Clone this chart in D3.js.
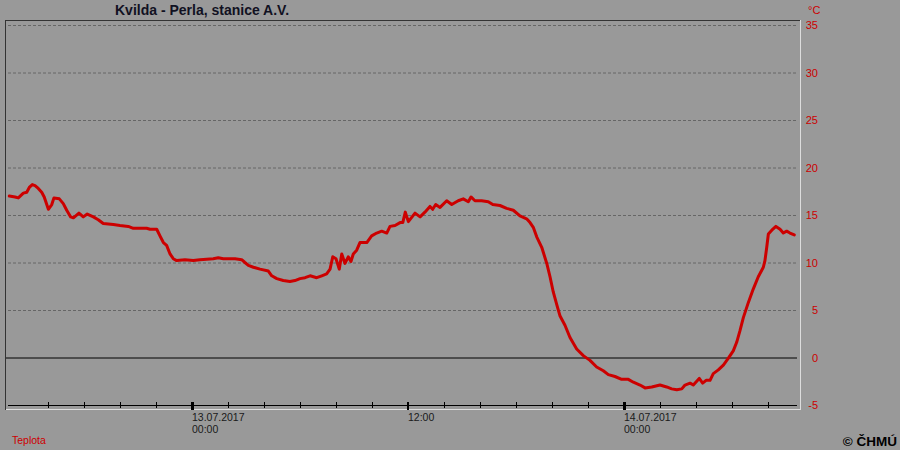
<!DOCTYPE html>
<html>
<head>
<meta charset="utf-8">
<script src="https://cdn.jsdelivr.net/npm/d3@7"></script>
<style>
html,body{margin:0;padding:0;background:#999999;}
svg{display:block;}
</style>
</head>
<body>
<svg id="chart" width="900" height="450"></svg>
<script>
// ---- data ----
const title = "Kvilda - Perla, stanice A.V.";
const seriesName = "Teplota";
const unit = "°C";
const credit = "© ČHMÚ";
// hours relative to 13.07.2017 00:00
const hoursFrom13Jul = [
 -10.15,-9.83,-9.65,-9.37,-9.18,-9.04,-8.87,-8.72,-8.54,-8.35,-8.21,-7.98,-7.79,-7.67,-7.37,-7.15,-6.96,-6.74,-6.59,-6.28,
 -6.04,-5.82,-5.48,-5.21,-4.93,-4.37,-4.00,-3.54,-3.26,-2.52,-2.33,-1.96,-1.78,-1.59,-1.41,-1.22,-1.04,-0.85,-0.39,0.07,
 0.44,1.18,1.46,1.74,2.39,2.76,2.94,3.13,3.41,3.78,4.24,4.43,4.71,5.07,5.44,5.72,6.00,6.28,6.56,6.93,
 7.21,7.48,7.67,7.82,8.00,8.18,8.32,8.50,8.68,8.83,8.96,9.15,9.33,9.71,9.98,10.26,10.54,10.82,11.00,11.28,
 11.56,11.71,11.85,12.02,12.39,12.67,12.94,13.22,13.37,13.54,13.78,14.15,14.43,14.79,15.07,15.35,15.50,15.72,16.09,16.46,
 16.71,17.11,17.48,17.85,18.22,18.59,18.78,18.96,19.15,19.43,19.71,19.89,20.07,20.26,20.44,20.72,21.00,21.37,21.74,22.11,
 22.48,22.85,23.13,23.50,23.87,24.24,24.52,24.89,25.17,25.54,26.00,26.37,26.65,26.93,27.21,27.39,27.67,27.85,28.18,28.37,
 28.56,28.78,28.96,29.24,29.52,29.79,30.07,30.26,30.44,30.63,30.91,31.18,31.46,31.74,31.83,31.93,32.02,32.21,32.44,32.67,
 32.85,33.04,33.22,33.46
];
const temperature = [
 17.0,16.9,16.8,17.3,17.4,17.9,18.2,18.1,17.8,17.4,16.9,15.6,16.1,16.8,16.7,16.2,15.5,14.8,14.7,15.2,
 14.8,15.1,14.8,14.5,14.1,14.0,13.9,13.8,13.6,13.6,13.5,13.5,12.8,12.1,11.8,10.9,10.4,10.2,10.3,10.2,
 10.3,10.4,10.5,10.4,10.4,10.3,10.0,9.7,9.5,9.3,9.1,8.6,8.3,8.1,8.0,8.1,8.3,8.4,8.6,8.4,
 8.6,8.8,9.3,10.6,10.4,9.3,10.9,9.9,10.6,10.1,10.9,11.3,12.1,12.1,12.8,13.1,13.3,13.1,13.8,13.9,
 14.2,14.2,15.3,14.3,15.2,14.8,15.3,15.9,15.6,16.1,15.8,16.5,16.1,16.5,16.7,16.4,16.9,16.5,16.5,16.4,
 16.1,16.0,15.7,15.5,14.9,14.6,14.2,13.7,12.7,11.6,9.9,8.5,6.9,5.6,4.4,3.4,2.1,0.9,0.2,-0.3,
 -1.0,-1.4,-1.8,-2.0,-2.3,-2.3,-2.6,-2.9,-3.2,-3.1,-2.9,-3.1,-3.3,-3.4,-3.3,-2.9,-2.7,-2.9,-2.2,-2.7,
 -2.4,-2.4,-1.7,-1.3,-0.8,-0.1,0.7,1.6,2.8,4.2,5.8,7.2,8.5,9.5,10.2,11.6,13.0,13.4,13.8,13.5,
 13.1,13.3,13.1,12.9
];
const yTicks = [-5,0,5,10,15,20,25,30,35];
const xTickHours = [-8,-6,-4,-2,0,2,4,6,8,10,12,14,16,18,20,22,24,26,28,30,32];
const xLabelHours = [0,12,24];
const xLabels = [["13.07.2017","00:00"],["12:00"],["14.07.2017","00:00"]];

// ---- chart ----
const svg = d3.select("#chart");
const base = new Date(2017,6,13,0,0);
const toDate = h => new Date(base.getTime() + h*3600000);

const x = d3.scaleTime()
  .domain([toDate(-186/18), toDate(608/18)])
  .range([6, 800]);
const y = d3.scaleLinear().domain([-5,35]).range([405,25]);

svg.append("rect").attr("width",900).attr("height",450).attr("fill","#999999");

// gridlines
const gridX0 = 8, gridX1 = 797;
svg.append("g").selectAll("line").data(yTicks.filter(v => v > 0)).join("line")
  .attr("x1",gridX0).attr("x2",gridX1)
  .attr("y1",d=>y(d)+0.5).attr("y2",d=>y(d)+0.5)
  .attr("stroke","#666666").attr("stroke-width",1).attr("stroke-dasharray","3,2");

// zero line
svg.append("line").attr("x1",6).attr("x2",gridX1)
  .attr("y1",y(0)+0.5).attr("y2",y(0)+0.5).attr("stroke","#000").attr("stroke-width",1);

// frame (sunken)
svg.append("line").attr("x1",5.5).attr("x2",5.5).attr("y1",20).attr("y2",410).attr("stroke","#333333");
svg.append("line").attr("x1",5).attr("x2",800).attr("y1",20.5).attr("y2",20.5).attr("stroke","#333333");
svg.append("line").attr("x1",800.5).attr("x2",800.5).attr("y1",20).attr("y2",410).attr("stroke","#dddddd");
svg.append("line").attr("x1",6).attr("x2",801).attr("y1",409.5).attr("y2",409.5).attr("stroke","#dddddd");

// x axis line
svg.append("line").attr("x1",gridX0).attr("x2",gridX1)
  .attr("y1",y(-5)+0.5).attr("y2",y(-5)+0.5).attr("stroke","#000");

// x ticks
const xt = svg.append("g");
xt.selectAll("rect").data(xTickHours).join("rect")
  .attr("x", d => {
    const w = (d===0||d===24) ? 3 : (d===12 ? 2 : 1);
    return Math.round(x(toDate(d))) - Math.floor(w/2);
  })
  .attr("width", d => (d===0||d===24) ? 3 : (d===12 ? 2 : 1))
  .attr("y", d => (d%12===0) ? 402 : 402)
  .attr("height", d => (d%12===0) ? 8 : 6)
  .attr("fill","#000");

// x labels
const xl = svg.append("g").attr("font-family","'Liberation Sans', Arial, sans-serif")
  .attr("font-size","10.5px").attr("fill","#1a1a1a");
xLabelHours.forEach((h,i) => {
  const t = xl.append("text").attr("x", Math.round(x(toDate(h)))).attr("y",421);
  xLabels[i].forEach((s,j) => {
    t.append("tspan").attr("x", Math.round(x(toDate(h)))).attr("dy", j===0 ? 0 : 11.5).text(s);
  });
});

// y labels (right side)
const yl = svg.append("g").attr("font-family","'Liberation Sans', Arial, sans-serif")
  .attr("font-size","11px").attr("fill","#cc0000").attr("text-anchor","end");
yl.selectAll("text").data(yTicks).join("text")
  .attr("x",818).attr("y",d=>y(d)+4).text(d=>d);
svg.append("text").attr("x",808).attr("y",14)
  .attr("font-family","'Liberation Sans', Arial, sans-serif").attr("font-size","11px")
  .attr("fill","#cc0000").text(unit);

// line
const data = hoursFrom13Jul.map((h,i) => ({t: toDate(h), v: temperature[i]}));
svg.append("path").datum(data)
  .attr("fill","none").attr("stroke","#cc0000").attr("stroke-width",3)
  .attr("stroke-linejoin","round").attr("stroke-linecap","round")
  .attr("d", d3.line().x(d=>x(d.t)).y(d=>y(d.v)));

// title
svg.append("text").attr("x",115).attr("y",15)
  .attr("font-family","'Liberation Sans', Arial, sans-serif").attr("font-size","14px")
  .attr("font-weight","bold").attr("fill","#111122").text(title);

// legend
svg.append("text").attr("x",12).attr("y",444)
  .attr("font-family","'Liberation Sans', Arial, sans-serif").attr("font-size","10.5px")
  .attr("fill","#cc0000").text(seriesName);

// credit
svg.append("text").attr("x",897).attr("y",446).attr("text-anchor","end")
  .attr("font-family","'Liberation Sans', Arial, sans-serif").attr("font-size","13.5px")
  .attr("font-weight","bold").attr("fill","#000").text(credit);
</script>
</body>
</html>
